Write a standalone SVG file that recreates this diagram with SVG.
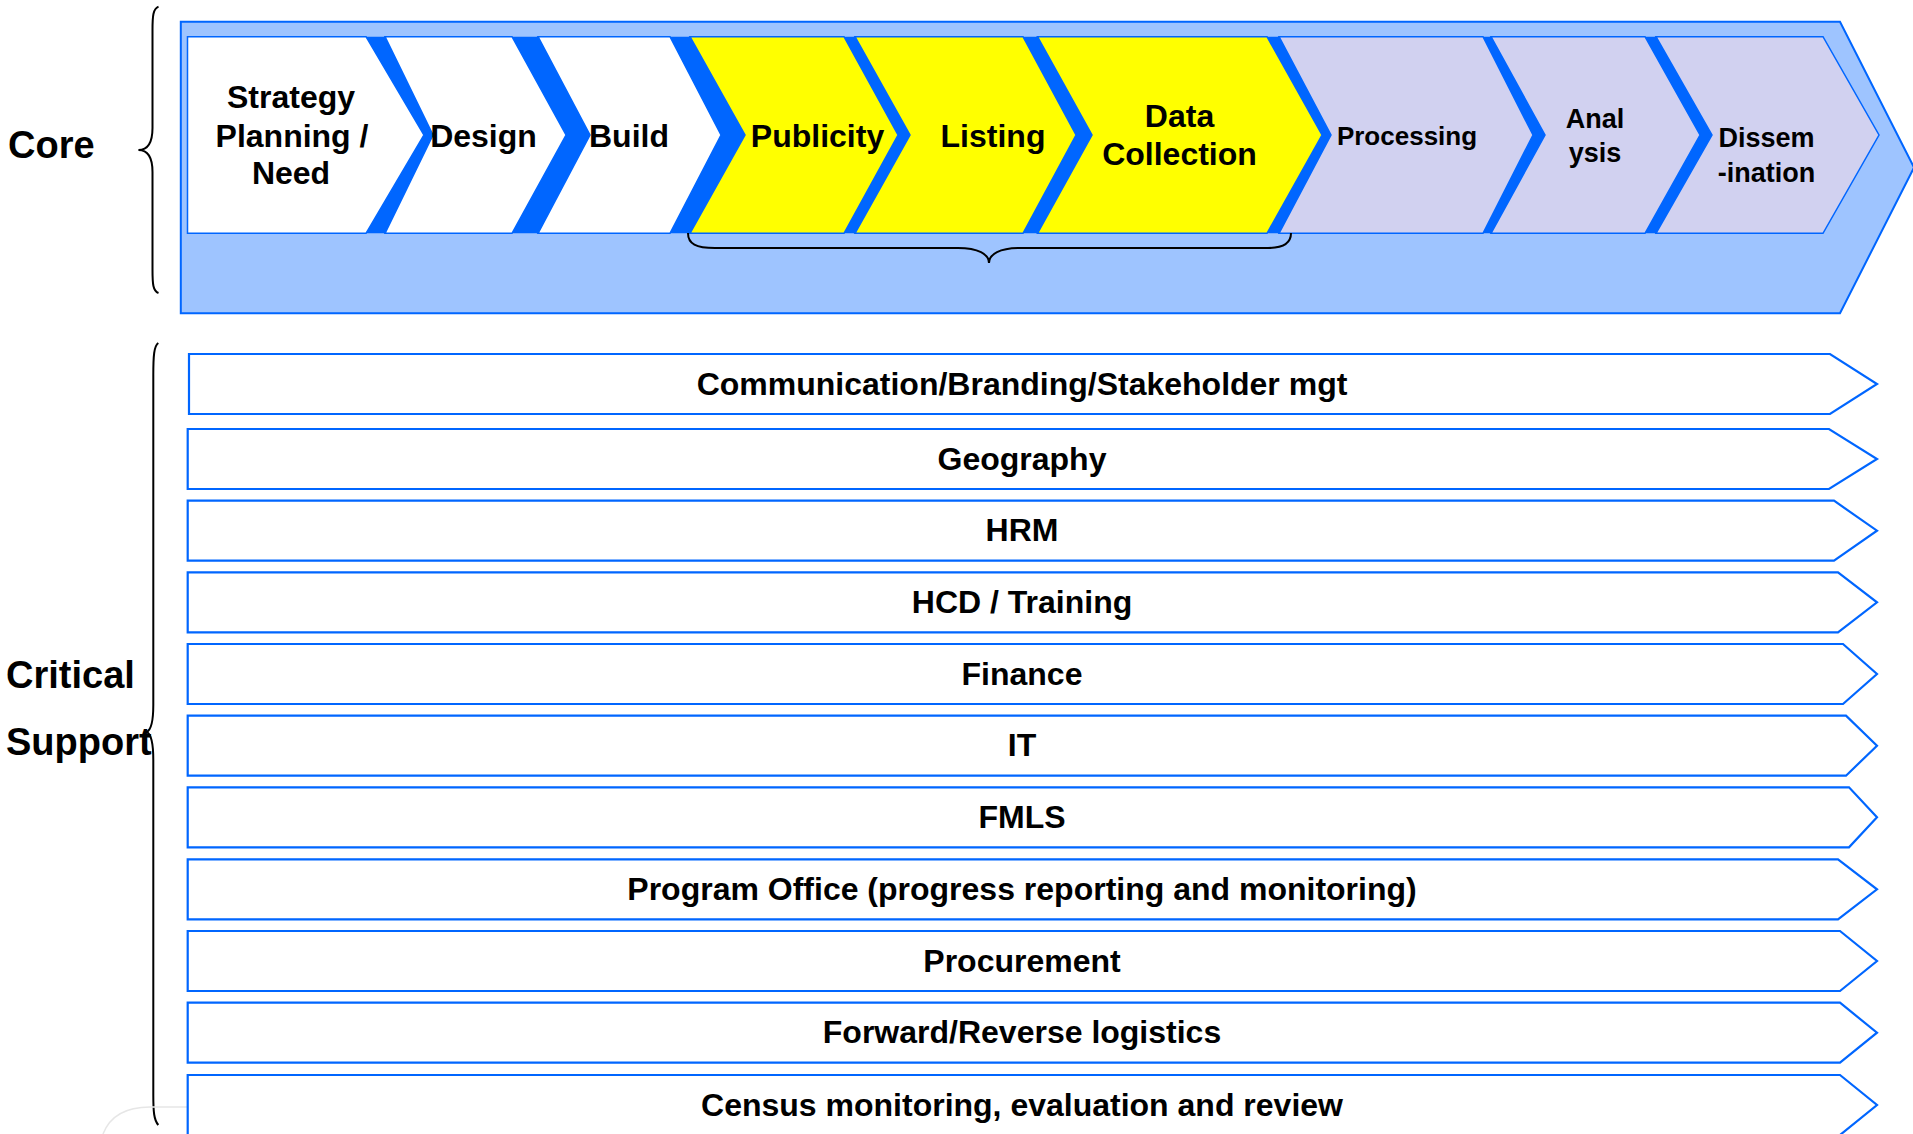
<svg xmlns="http://www.w3.org/2000/svg" width="1913" height="1134" viewBox="0 0 1913 1134">
<style>
.t{font-family:"Liberation Sans",Arial,sans-serif;font-weight:bold;fill:#000;text-anchor:middle}
.c32{font-size:32px}
.c26{font-size:26px}
.c27{font-size:27px}
.bar{fill:#fff;stroke:#0066FF;stroke-width:2.2}
.band{fill:#0066FF}
.chw{fill:#fff;stroke:#0066FF;stroke-width:1.5}
.chy{fill:#FFFF00;stroke:#0066FF;stroke-width:1.5}
.chl{fill:#D1D1F0;stroke:#0066FF;stroke-width:1.5}
.brace{fill:none;stroke:#000;stroke-width:2}
.bt{font-size:32px}
.side{font-size:38px;text-anchor:start}
</style>
<rect width="1913" height="1134" fill="#fff"/>
<g id="core-background">
<polygon points="180.8,21.7 1840,21.7 1914,167.5 1840,313.3 180.8,313.3" fill="#9EC4FF" stroke="#0066FF" stroke-width="2"/>
</g>
<g id="bands">
<polygon class="band" points="366,36.7 385,36.7 433,135 385,233.3 366,233.3 424,135"/>
<polygon class="band" points="512,36.7 538,36.7 590,135 538,233.3 512,233.3 566,135"/>
<polygon class="band" points="670,36.7 690,36.7 745,135 690,233.3 670,233.3 721,135"/>
<polygon class="band" points="844,36.7 855,36.7 910,135 855,233.3 844,233.3 898,135"/>
<polygon class="band" points="1023,36.7 1037.5,36.7 1092,135 1037.5,233.3 1023,233.3 1076,135"/>
<polygon class="band" points="1267,36.7 1279,36.7 1331,135 1279,233.3 1267,233.3 1322,135"/>
<polygon class="band" points="1483,36.7 1491,36.7 1545,135 1491,233.3 1483,233.3 1533,135"/>
<polygon class="band" points="1645,36.7 1656,36.7 1712,135 1656,233.3 1645,233.3 1700,135"/>
</g>
<g id="node-strategy">
<polygon class="chw" points="187.5,36.7 366,36.7 424,135 366,233.3 187.5,233.3"/>
<text class="t c32" x="291" y="108.3">Strategy</text>
<text class="t c32" x="292" y="146.7">Planning /</text>
<text class="t c32" x="291" y="184.3">Need</text>
</g>
<g id="node-design">
<polygon class="chw" points="385,36.7 512,36.7 566,135 512,233.3 385,233.3 433,135"/>
<text class="t c32" x="483.5" y="146.7">Design</text>
</g>
<g id="node-build">
<polygon class="chw" points="538,36.7 670,36.7 721,135 670,233.3 538,233.3 590,135"/>
<text class="t c32" x="629" y="146.7">Build</text>
</g>
<g id="node-publicity">
<polygon class="chy" points="690,36.7 844,36.7 898,135 844,233.3 690,233.3 745,135"/>
<text class="t c32" x="817.5" y="146.7">Publicity</text>
</g>
<g id="node-listing">
<polygon class="chy" points="855,36.7 1023,36.7 1076,135 1023,233.3 855,233.3 910,135"/>
<text class="t c32" x="993" y="146.7">Listing</text>
</g>
<g id="node-datacollection">
<polygon class="chy" points="1037.5,36.7 1267,36.7 1322,135 1267,233.3 1037.5,233.3 1092,135"/>
<text class="t c32" x="1179.5" y="127">Data</text>
<text class="t c32" x="1179.5" y="165">Collection</text>
</g>
<g id="node-processing">
<polygon class="chl" points="1279,36.7 1483,36.7 1533,135 1483,233.3 1279,233.3 1331,135"/>
<text class="t c26" x="1407" y="145">Processing</text>
</g>
<g id="node-analysis">
<polygon class="chl" points="1491,36.7 1645,36.7 1700,135 1645,233.3 1491,233.3 1545,135"/>
<text class="t c27" x="1595" y="128">Anal</text>
<text class="t c27" x="1595" y="161.7">ysis</text>
</g>
<g id="node-dissemination">
<polygon class="chl" points="1656,36.7 1823,36.7 1879,135 1823,233.3 1656,233.3 1712,135"/>
<text class="t c27" x="1766.5" y="146.7">Dissem</text>
<text class="t c27" x="1766.5" y="181.7">-ination</text>
</g>
<g id="labels">
<text class="t side" x="8" y="158">Core</text>
<text class="t side" x="6" y="688.3">Critical</text>
<text class="t side" x="6" y="755">Support</text>
</g>
<g id="connectors">
<path class="brace" d="M158.5,6.7 C153,9 152.5,16 152.5,30 L152.5,128 C152.5,142 148,150 138.4,150 C148,150 152.5,158 152.5,172 L152.5,270 C152.5,284 153,291 158.5,293"/>
<path class="brace" d="M688,233 C688,244 696,248 715,248 L958,248 C978,248 989,254 989,263 C989,254 1000,248 1020,248 L1268,248 C1284,248 1291,243 1291,233"/>
<path class="brace" d="M158.3,343 C154,346 153.3,356 153.3,375 L153.3,705 C153.3,722 151,730 146.7,732 C151,734 153.3,742 153.3,760 L153.3,1095 C153.3,1112 154,1120 158.3,1125"/>
<path d="M103,1134 C110,1116 125,1107 150,1107 L187,1107" fill="none" stroke="#e6e6e6" stroke-width="1.5"/>
</g>
<g id="node-comm">
<polygon class="bar" points="189,354 1830,354 1877,384 1830,414 189,414"/>
<text class="t bt" x="1022" y="394.5">Communication/Branding/Stakeholder mgt</text>
</g>
<g id="node-geography">
<polygon class="bar" points="187.7,429 1829,429 1877,459 1829,489 187.7,489"/>
<text class="t bt" x="1022" y="469.5">Geography</text>
</g>
<g id="node-hrm">
<polygon class="bar" points="187.7,500.7 1834,500.7 1877,530.7 1834,560.7 187.7,560.7"/>
<text class="t bt" x="1022" y="541.2">HRM</text>
</g>
<g id="node-hcd">
<polygon class="bar" points="187.7,572.3 1838,572.3 1877,602.3 1838,632.3 187.7,632.3"/>
<text class="t bt" x="1022" y="612.8">HCD / Training</text>
</g>
<g id="node-finance">
<polygon class="bar" points="187.7,644 1843,644 1877,674 1843,704 187.7,704"/>
<text class="t bt" x="1022" y="684.5">Finance</text>
</g>
<g id="node-it">
<polygon class="bar" points="187.7,715.7 1846,715.7 1877,745.7 1846,775.7 187.7,775.7"/>
<text class="t bt" x="1022" y="756.2">IT</text>
</g>
<g id="node-fmls">
<polygon class="bar" points="187.7,787.3 1849,787.3 1877,817.3 1849,847.3 187.7,847.3"/>
<text class="t bt" x="1022" y="827.8">FMLS</text>
</g>
<g id="node-program">
<polygon class="bar" points="187.7,859.3 1838,859.3 1877,889.3 1838,919.3 187.7,919.3"/>
<text class="t bt" x="1022" y="899.8">Program Office (progress reporting and monitoring)</text>
</g>
<g id="node-procurement">
<polygon class="bar" points="187.7,931 1840,931 1877,961 1840,991 187.7,991"/>
<text class="t bt" x="1022" y="971.5">Procurement</text>
</g>
<g id="node-logistics">
<polygon class="bar" points="187.7,1002.7 1840,1002.7 1877,1032.7 1840,1062.7 187.7,1062.7"/>
<text class="t bt" x="1022" y="1043.2">Forward/Reverse logistics</text>
</g>
<g id="node-census">
<polygon class="bar" points="187.7,1075 1840,1075 1877,1105 1840,1135 187.7,1135"/>
<text class="t bt" x="1022" y="1115.5">Census monitoring, evaluation and review</text>
</g>
</svg>
